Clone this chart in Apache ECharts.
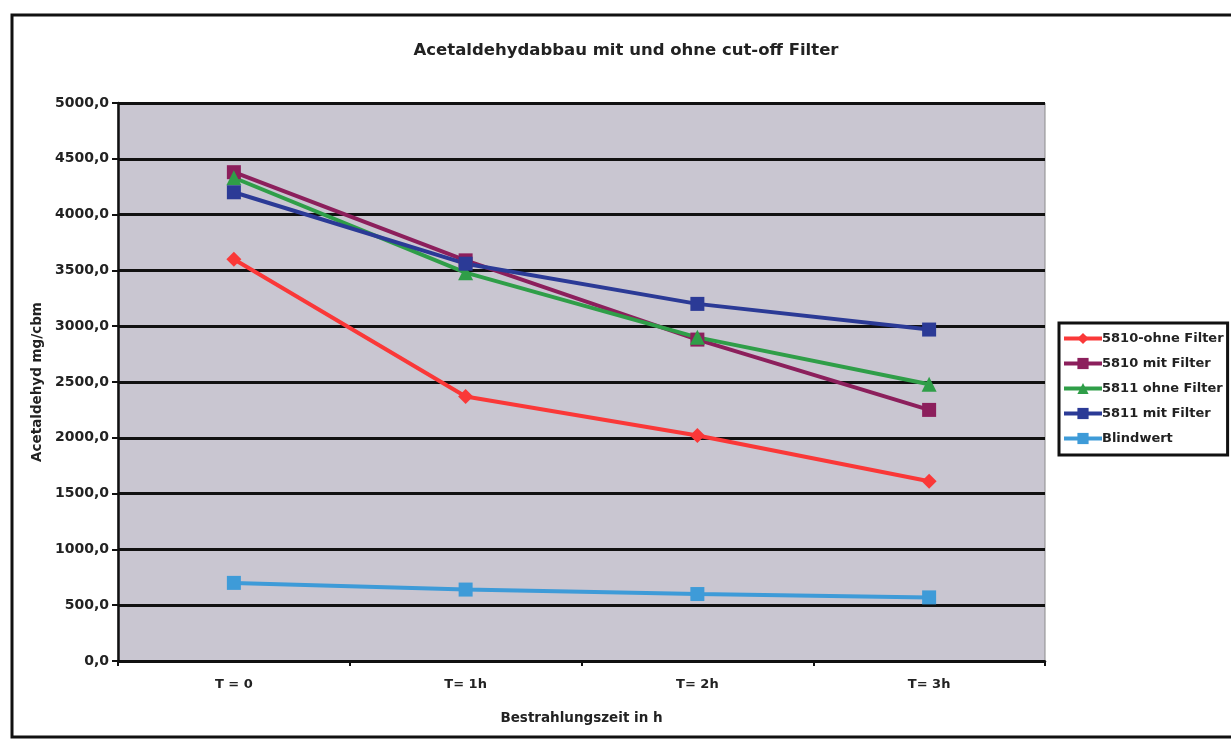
<!DOCTYPE html>
<html><head><meta charset="utf-8">
<script src="https://cdn.jsdelivr.net/npm/echarts@6/dist/echarts.min.js"></script>
<style>html,body{margin:0;padding:0;background:#fff}#c{width:1231px;height:740px}</style>
</head><body><div id="c"></div>
<script>
const categories = ['T = 0', 'T= 1h', 'T= 2h', 'T= 3h'];
const s5810ohne = [3600, 2370, 2020, 1610];
const s5810mit = [4380, 3590, 2880, 2250];
const s5811ohne = [4330, 3480, 2900, 2480];
const s5811mit = [4200, 3560, 3200, 2970];
const blindwert = [700, 640, 600, 570];
const yTicks = {min: 0, max: 5000, interval: 500};

const chart = echarts.init(document.getElementById('c'));
const font = 'DejaVu Sans, Liberation Sans, sans-serif';
function line(name, data, color, symbol, size) {
  return {name, type: 'line', data, symbol, symbolSize: size,
    lineStyle: {color, width: 4}, itemStyle: {color},
    emphasis: {disabled: true}, z: 3};
}
chart.setOption({
  animation: false,
  title: {text: 'Acetaldehydabbau mit und ohne cut-off Filter', left: 621, top: 37, textAlign: 'center',
    textStyle: {fontFamily: font, fontSize: 16.5, fontWeight: 'bold', color: '#222'}},
  grid: {left: 118, right: 186, top: 103, bottom: 79, show: true, backgroundColor: '#c9c6d1', borderColor: '#8a8a8a', borderWidth: 1},
  xAxis: {type: 'category', data: categories, boundaryGap: true,
    name: 'Bestrahlungszeit in h', nameLocation: 'middle', nameGap: 50,
    nameTextStyle: {fontFamily: font, fontSize: 13.5, fontWeight: 'bold', color: '#222'},
    axisLine: {lineStyle: {color: '#111', width: 2.5}},
    axisTick: {show: true, length: 5, lineStyle: {color: '#111', width: 2}},
    axisLabel: {fontFamily: font, fontSize: 13, fontWeight: 'bold', color: '#222', margin: 17}},
  yAxis: {type: 'value', min: yTicks.min, max: yTicks.max, interval: yTicks.interval,
    name: 'Acetaldehyd mg/cbm', nameLocation: 'middle', nameGap: 72, nameRotate: 90,
    nameTextStyle: {fontFamily: font, fontSize: 13.5, fontWeight: 'bold', color: '#222'},
    axisLine: {show: true, lineStyle: {color: '#111', width: 2.5}},
    axisTick: {show: true, length: 6, lineStyle: {color: '#111', width: 2}},
    axisLabel: {fontFamily: font, fontSize: 14, fontWeight: 'bold', color: '#222', margin: 9,
      formatter: v => v.toFixed(1).replace('.', ',')},
    splitLine: {lineStyle: {color: '#111', width: 3}}},
  legend: {orient: 'vertical', left: 1059, top: 323, itemWidth: 38, itemHeight: 14, itemGap: 12,
    padding: [9, 4, 10, 3], backgroundColor: '#fff', borderColor: '#111', borderWidth: 3, borderRadius: 0,
    lineStyle: {width: 4},
    textStyle: {fontFamily: font, fontSize: 13, fontWeight: 'bold', color: '#222', padding: [0, 0, 0, -5]},
    data: ['5810-ohne Filter', '5810 mit Filter', '5811 ohne Filter', '5811 mit Filter', 'Blindwert']},
  series: [
    line('5810-ohne Filter', s5810ohne, '#fa3838', 'diamond', 15),
    line('5810 mit Filter', s5810mit, '#8c1f5c', 'rect', 14),
    line('5811 ohne Filter', s5811ohne, '#2f9e48', 'triangle', 15),
    line('5811 mit Filter', s5811mit, '#2b3a96', 'rect', 14),
    line('Blindwert', blindwert, '#3e9bd8', 'rect', 14)
  ],
  graphic: [{type: 'rect', shape: {x: 12, y: 15, width: 1225, height: 722}, style: {fill: 'none', stroke: '#111', lineWidth: 3}, silent: true}]
});
</script></body></html>
